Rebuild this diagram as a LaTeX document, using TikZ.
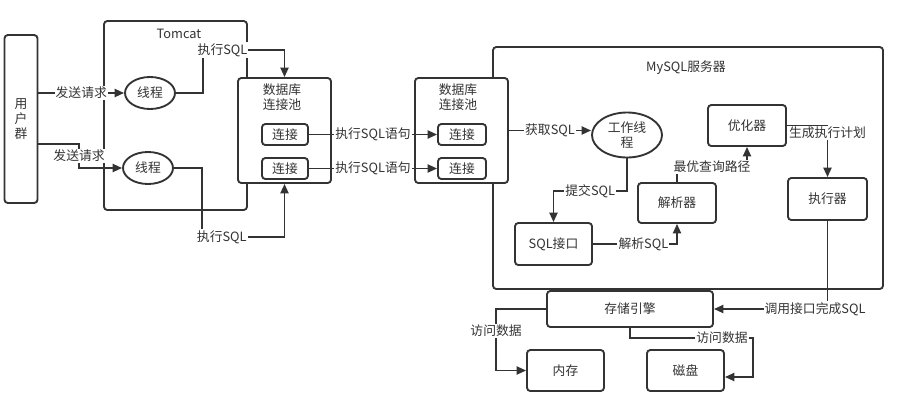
\documentclass[tikz,border=0pt]{standalone}
\usepackage{fontspec}
\setmainfont{Noto Sans CJK SC}
\usetikzlibrary{arrows.meta,shapes.geometric,calc}
\definecolor{lc}{HTML}{333333}
\definecolor{tc}{HTML}{333333}
\newdimen\upx \upx=0.75pt
\tikzset{
  box/.style={draw=lc, fill=white, rounded corners=2.5pt, line width=1.4pt, text=tc, inner sep=0pt, align=center},
  ell/.style={draw=lc, fill=white, ellipse, line width=1.4pt, text=tc, inner sep=0pt, align=center},
  conn/.style={draw=lc, line width=1.4pt, -{Triangle[length=7pt,width=6pt]}},
  lab/.style={fill=white, inner sep=0.8pt, text=tc},
  txt/.style={text=tc, inner sep=0pt, align=center}
}
\begin{document}
\begin{tikzpicture}[x=0.75pt,y=-0.75pt,font=\fontsize{9.6}{11.25}\selectfont]
\useasboundingbox (0,0) rectangle (914,408);
% containers
\node[box, minimum width=143\upx, minimum height=189\upx] (tomcat) at (175.5,115.5) {};
\node[txt] (tomcatt) at (179,34) {Tomcat};
\node[box, minimum width=390\upx, minimum height=242\upx] (mysql) at (688,168) {};
\node[txt] (mysqlt) at (686,68) {MySQL服务器};
% nodes
\node[box, minimum width=33\upx, minimum height=168\upx] (user) at (21,119) {用\\户\\群};
\node[ell, minimum width=50\upx, minimum height=32\upx] (thread1) at (150,93) {线程};
\node[ell, minimum width=50\upx, minimum height=32\upx] (thread2) at (148,168) {线程};
\node[box, minimum width=93\upx, minimum height=105\upx] (pool1) at (284.5,130.5) {};
\node[txt] (pool1t) at (282,97) {数据库\\连接池};
\node[box, minimum width=46\upx, minimum height=21\upx] (c1a) at (285,134.5) {连接};
\node[box, minimum width=46\upx, minimum height=21\upx] (c1b) at (285,168.5) {连接};
\node[box, minimum width=93\upx, minimum height=105\upx] (pool2) at (461.5,130.5) {};
\node[txt] (pool2t) at (458,97) {数据库\\连接池};
\node[box, minimum width=48\upx, minimum height=21\upx] (c2a) at (462,134.5) {连接};
\node[box, minimum width=48\upx, minimum height=21\upx] (c2b) at (462,168.5) {连接};
\node[ell, minimum width=70\upx, minimum height=45\upx] (worker) at (627,135) {工作线\\程};
\node[box, minimum width=77\upx, minimum height=42\upx] (sqlif) at (553.5,244) {SQL接口};
\node[box, minimum width=78\upx, minimum height=40\upx] (parser) at (677,203) {解析器};
\node[box, minimum width=78\upx, minimum height=41\upx] (optim) at (747,125.5) {优化器};
\node[box, minimum width=79\upx, minimum height=42\upx] (exec) at (827.5,199) {执行器};
\node[box, minimum width=166\upx, minimum height=36\upx] (storage) at (630,309) {存储引擎};
\node[box, minimum width=77\upx, minimum height=41\upx] (mem) at (565.5,370.5) {内存};
\node[box, minimum width=77\upx, minimum height=41\upx] (disk) at (685.5,370.5) {磁盘};
% connectors
\draw[conn] (user.east |- thread1.west) -- node[lab]{发送请求} (thread1.west);
\draw[conn] ($(user.east)+(0,25)$) -| node[lab,pos=0.75]{发送请求} ($(thread2.west)+(-43,0)$) -- (thread2.west);
\draw[conn] (thread1.east) -| (203,50) -| node[lab,pos=0.12]{执行SQL} (pool1.north);
\draw[conn] (thread2.east) -| (202,237) -| node[lab,pos=0.12]{执行SQL} (pool1.south);
\draw[conn] (c1a.east) -- node[lab]{执行SQL语句} (c2a.west);
\draw[conn] (c1b.east) -- node[lab]{执行SQL语句} (c2b.west);
\draw[conn] (pool2.east) -- node[lab]{获取SQL} (pool2.east -| worker.west);
\draw[conn] (worker.south) |- node[lab,pos=0.75]{提交SQL} ($(sqlif.north)+(0,-31)$) -- (sqlif.north);
\draw[conn] (sqlif.east) -| node[lab,pos=0.3]{解析SQL} (parser.south);
\draw[conn] (parser.north) |- node[lab,pos=0.75]{最优查询路径} ($(optim.south)+(0,20)$) -- (optim.south);
\draw[conn] (optim.east) -| node[lab,pos=0.57]{生成执行计划} (exec.north);
\draw[conn] (exec.south) |- node[lab,pos=0.555]{调用接口完成SQL} (storage.east);
\draw[conn] (storage.west) -| node[lab,pos=0.68]{访问数据} ($(mem.west)+(-30,0)$) -- (mem.west);
\draw[conn] (storage.south) |- node[lab,pos=0.874]{访问数据} (753,338) |- ($(disk.east)+(0,6.5)$);
\end{tikzpicture}
\end{document}
